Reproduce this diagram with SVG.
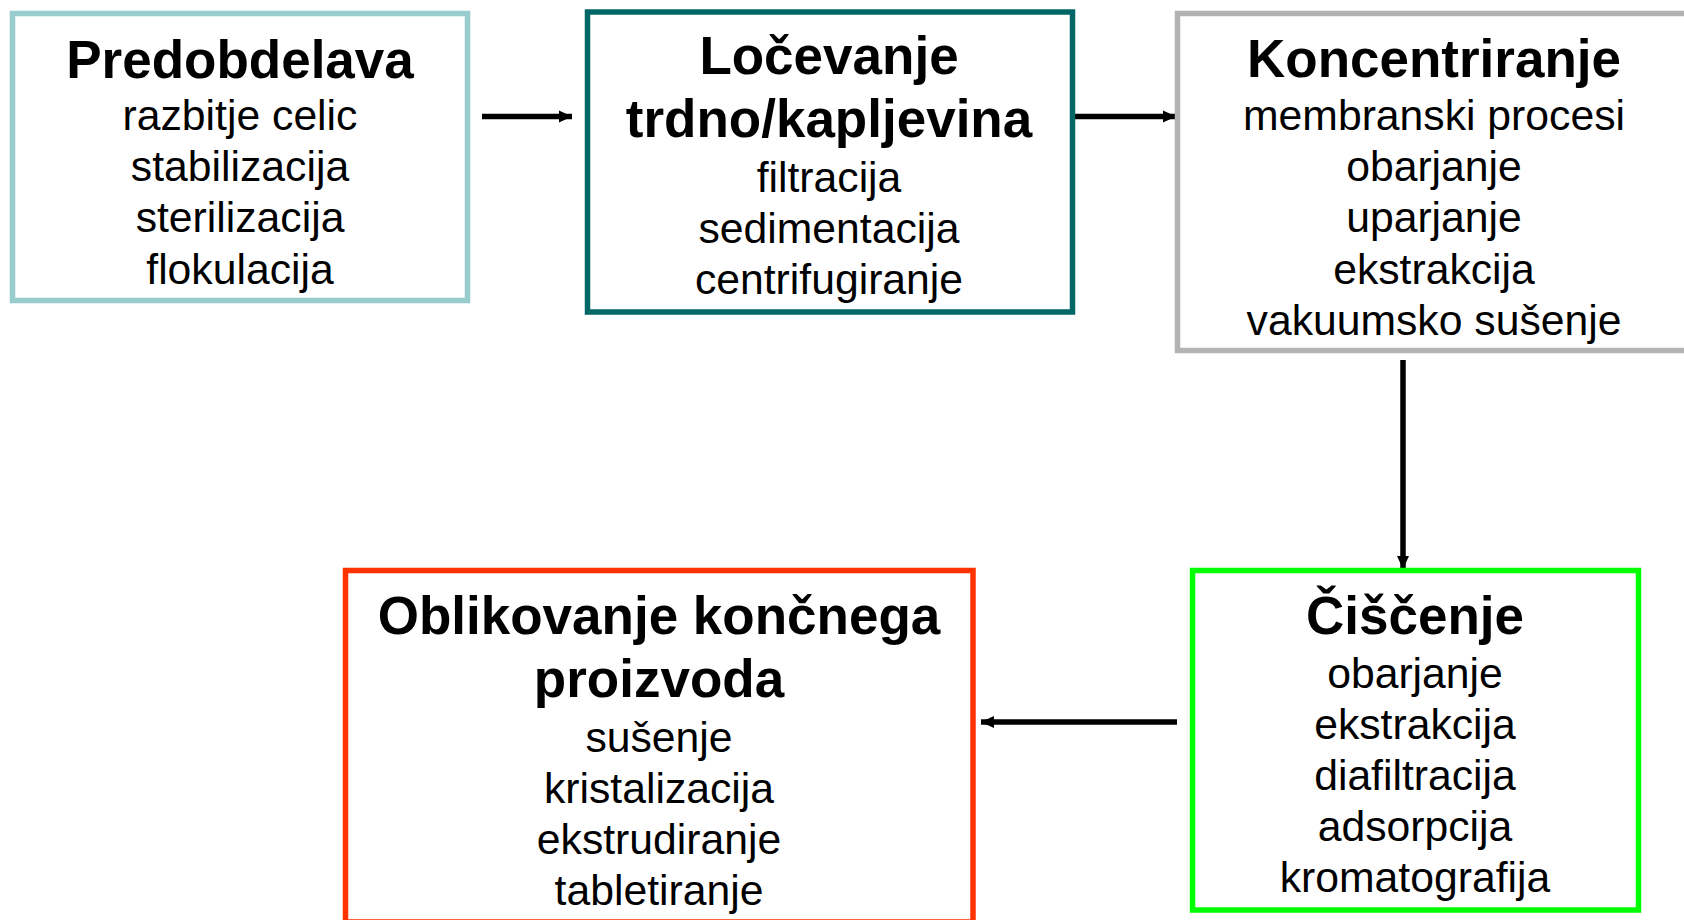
<svg xmlns="http://www.w3.org/2000/svg" width="1684" height="920" viewBox="0 0 1684 920">
<style>
.box{fill:#FFFFFF;stroke-width:5.5}
.t{font-family:"Liberation Sans",Arial,sans-serif;font-weight:bold;font-size:53px;fill:#000;text-anchor:middle}
.s{font-family:"Liberation Sans",Arial,sans-serif;font-size:42.7px;fill:#000;text-anchor:middle}
.c{stroke:#000;stroke-width:5.5;fill:none}
</style>
<defs>
<marker id="ah" markerUnits="userSpaceOnUse" markerWidth="14" markerHeight="14" viewBox="0 0 14 14" refX="13" refY="7" orient="auto">
<path d="M0,1 L13,7 L0,13 Z" fill="#000"/>
</marker>
</defs>
<rect width="1684" height="920" fill="#FFFFFF"/>
<g id="connectors">
<line class="c" x1="482" y1="116.5" x2="572" y2="116.5" marker-end="url(#ah)"/>
<line class="c" x1="1074" y1="116.5" x2="1176" y2="116.5" marker-end="url(#ah)"/>
<line class="c" x1="1403" y1="360" x2="1403" y2="569" marker-end="url(#ah)"/>
<line class="c" x1="1177" y1="722" x2="981" y2="722" marker-end="url(#ah)"/>
</g>
<g id="predobdelava">
<rect class="box" x="12.5" y="13.5" width="455" height="287" stroke="#99CCCC"/>
<text class="t" x="240" y="77.5">Predobdelava</text>
<text class="s" x="240" y="130">razbitje celic</text>
<text class="s" x="240" y="181">stabilizacija</text>
<text class="s" x="240" y="232">sterilizacija</text>
<text class="s" x="240" y="283.5">flokulacija</text>
</g>
<g id="locevanje">
<rect class="box" x="587.5" y="12" width="485" height="300" stroke="#006666"/>
<text class="t" x="829" y="73.5">Ločevanje</text>
<text class="t" x="829" y="137">trdno/kapljevina</text>
<text class="s" x="829" y="192">filtracija</text>
<text class="s" x="829" y="243">sedimentacija</text>
<text class="s" x="829" y="294">centrifugiranje</text>
</g>
<g id="koncentriranje">
<rect class="box" x="1177.5" y="13.5" width="514" height="337" stroke="#B3B3B3"/>
<text class="t" x="1434" y="76.5">Koncentriranje</text>
<text class="s" x="1434" y="130">membranski procesi</text>
<text class="s" x="1434" y="181">obarjanje</text>
<text class="s" x="1434" y="232">uparjanje</text>
<text class="s" x="1434" y="283.5">ekstrakcija</text>
<text class="s" x="1434" y="334.5">vakuumsko sušenje</text>
</g>
<g id="ciscenje">
<rect class="box" x="1192.5" y="570.5" width="446" height="339.5" stroke="#00FF00"/>
<text class="t" x="1415" y="633.5">Čiščenje</text>
<text class="s" x="1415" y="688">obarjanje</text>
<text class="s" x="1415" y="739">ekstrakcija</text>
<text class="s" x="1415" y="790">diafiltracija</text>
<text class="s" x="1415" y="841">adsorpcija</text>
<text class="s" x="1415" y="892">kromatografija</text>
</g>
<g id="oblikovanje">
<rect class="box" x="345.5" y="570.5" width="627.5" height="351.5" stroke="#FF3300"/>
<text class="t" x="659" y="633.5">Oblikovanje končnega</text>
<text class="t" x="659" y="697">proizvoda</text>
<text class="s" x="659" y="752">sušenje</text>
<text class="s" x="659" y="803">kristalizacija</text>
<text class="s" x="659" y="854">ekstrudiranje</text>
<text class="s" x="659" y="905">tabletiranje</text>
</g>
</svg>
